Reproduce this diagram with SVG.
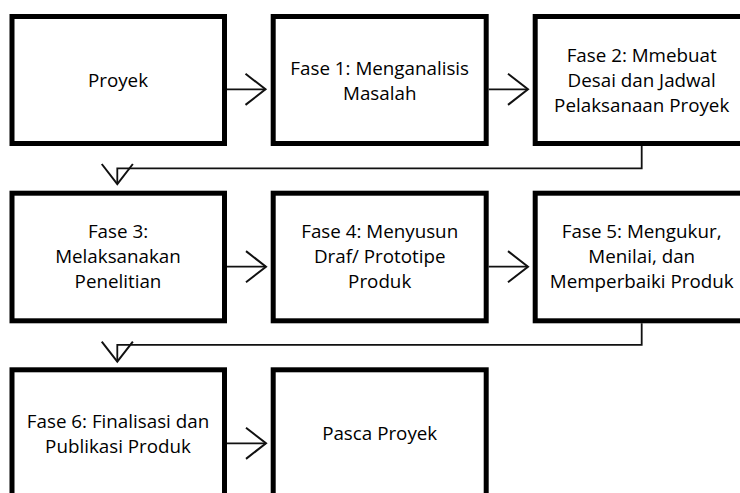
<svg xmlns="http://www.w3.org/2000/svg" width="740" height="493" viewBox="0 0 740 493">
<style>
.box{fill:#fff;stroke:#000;stroke-width:5}
.t{font-family:"Open Sans","Noto Sans",sans-serif;font-size:18.8px;fill:#000;text-anchor:middle}
.c{fill:none;stroke:#111;stroke-width:1.8;marker-end:url(#arr)}
</style>
<defs>
<marker id="arr" markerUnits="userSpaceOnUse" markerWidth="30" markerHeight="40" viewBox="-22 -18 26 36" refX="0" refY="0" orient="auto" overflow="visible">
<path d="M-18,-14 L0,0 L-18,14" fill="none" stroke="#111" stroke-width="1.8"/>
</marker>
</defs>
<rect width="740" height="493" fill="#fff"/>
<g id="connectors">
<path class="c" d="M227,89.3 H265.5"/>
<path class="c" d="M488.7,89.3 H528"/>
<path class="c" d="M641.7,146 V168.4 H117.3 V184"/>
<path class="c" d="M227,266.7 H266"/>
<path class="c" d="M488.7,266.7 H528"/>
<path class="c" d="M641.7,323.3 V344.8 H117.3 V361.7"/>
<path class="c" d="M227,443.3 H266"/>
</g>
<g id="proyek">
<rect class="box" x="12" y="16.5" width="212.5" height="127"/>
<text class="t" x="118" y="87.3">Proyek</text>
</g>
<g id="fase1">
<rect class="box" x="273.2" y="16.5" width="213" height="127"/>
<text class="t" x="379.7" y="74.5">Fase 1: Menganalisis</text>
<text class="t" x="379.7" y="99.5">Masalah</text>
</g>
<g id="fase2">
<rect class="box" x="535.2" y="16.5" width="213" height="127"/>
<text class="t" x="641.7" y="62">Fase 2: Mmebuat</text>
<text class="t" x="641.7" y="87">Desai dan Jadwal</text>
<text class="t" x="641.7" y="112">Pelaksanaan Proyek</text>
</g>
<g id="fase3">
<rect class="box" x="12" y="193.2" width="212.5" height="127.6"/>
<text class="t" x="118" y="238.3">Fase 3:</text>
<text class="t" x="118" y="263.3">Melaksanakan</text>
<text class="t" x="118" y="288.3">Penelitian</text>
</g>
<g id="fase4">
<rect class="box" x="273.2" y="193.2" width="213" height="127.6"/>
<text class="t" x="379.7" y="238.3">Fase 4: Menyusun</text>
<text class="t" x="379.7" y="263.3">Draf/ Prototipe</text>
<text class="t" x="379.7" y="288.3">Produk</text>
</g>
<g id="fase5">
<rect class="box" x="535.2" y="193.2" width="213" height="127.6"/>
<text class="t" x="641.7" y="238.3">Fase 5: Mengukur,</text>
<text class="t" x="641.7" y="263.3">Menilai, dan</text>
<text class="t" x="641.7" y="288.3">Memperbaiki Produk</text>
</g>
<g id="fase6">
<rect class="box" x="12" y="369.8" width="212.5" height="140"/>
<text class="t" x="118" y="428.3">Fase 6: Finalisasi dan</text>
<text class="t" x="118" y="453.3">Publikasi Produk</text>
</g>
<g id="pasca">
<rect class="box" x="273.2" y="369.8" width="213" height="140"/>
<text class="t" x="379.7" y="440">Pasca Proyek</text>
</g>
</svg>
